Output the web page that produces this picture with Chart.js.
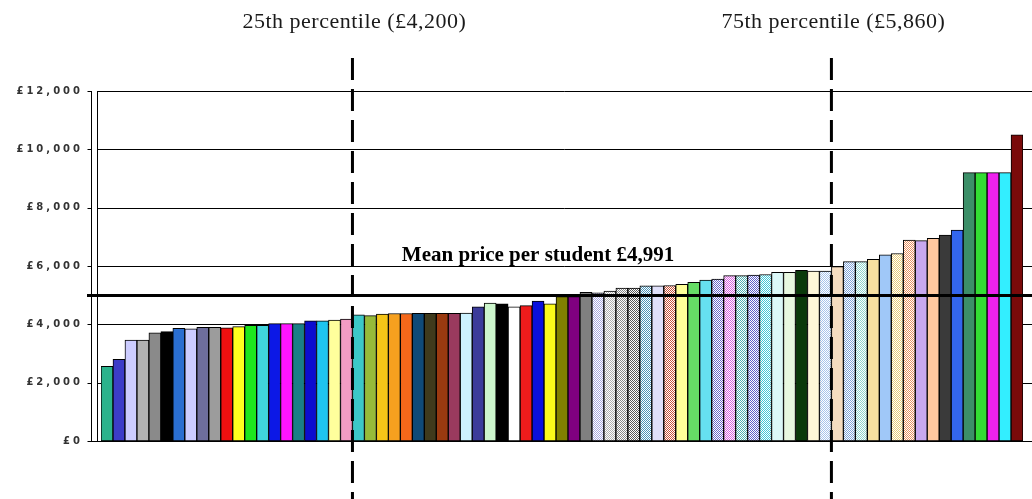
<!DOCTYPE html>
<html>
<head>
<meta charset="utf-8">
<script src="https://cdn.jsdelivr.net/npm/chart.js@4.4.1/dist/chart.umd.min.js"></script>
<style>
  html, body { margin: 0; padding: 0; background: #ffffff; }
  canvas { display: block; }
</style>
</head>
<body>
<canvas id="chart" width="1032" height="499"></canvas>
<script>
// Price per student for each provider, in ascending order (£)
const prices = [
  2560, 2800, 3460, 3460, 3710, 3750, 3860, 3850, 3900, 3900,
  3880, 3920, 3970, 3970, 4030, 4030, 4030, 4120, 4120, 4150,
  4180, 4330, 4300, 4350, 4370, 4370, 4380, 4380, 4380, 4380,
  4390, 4600, 4730, 4700, 4600, 4640, 4800, 4700, 4950, 4950,
  5100, 5080, 5140, 5240, 5240, 5320, 5320, 5330, 5370, 5440,
  5520, 5550, 5670, 5670, 5690, 5710, 5780, 5780, 5850, 5830,
  5830, 5980, 6150, 6150, 6230, 6380, 6430, 6890, 6870, 6950,
  7060, 7230, 9200, 9200, 9200, 9200, 10500
];
const categories = prices.map((_, i) => String(i + 1));

const meanPrice = 4991;
const percentileNames = ['25th percentile', '75th percentile'];
const percentileValues = [4200, 5860];

const yMax = 12000;
const yStep = 2000;

// Fill colours, one per bar
const barColours = [
  '#2bb38c','#3c3cc8','#ccccff','#b2b2b2','#8a8a8a','#000000','#2a6ed0','#ccccff','#6e6e9c','#9c9c9c',
  '#f01010','#ffff1e','#1ee61e','#40d4dc','#0c18e6','#ff14ff','#1a7f86','#0c0cd0','#1ec4f0','#ffff9c',
  '#f29cc4','#3cc8c8','#96bb3a','#f5c518','#f6a01f','#f5681a','#0f4a78','#3f3a1c','#9a3a10','#9a3a5e',
  '#ccf2ff','#3b3b9a','#ccf5cc','#000000','#ffffff','#ee1c1c','#0a10dc','#fbfb1a','#808000','#800080',
  '#808080','#a8a8e0','#b0b0b0','#888888','#585858','#4a94b8','#e0e0fa','#c85038','#ffff99','#66dd66',
  '#66e0f0','#6868c8','#d860e0','#50b0b0','#6060c8','#40c8d8','#dcf8f8','#e8f8e0','#0a3a0a','#fff8d8',
  '#a8c4ec','#f5dcc0','#80a4d8','#90d4cc','#f8e0a0','#a0c8f8','#e8cc78','#e89060','#c8a8f0','#ffc8a0',
  '#3a3a3a','#3366ee','#3c8f68','#33dd33','#ee22ee','#33eeff','#7a0a0a'
];
// Bars drawn with a fine dotted fill
const dottedBars = [41, 42, 43, 44, 45, 47, 51, 52, 53, 54, 55, 60, 62, 63, 66, 67];

const gbp = v => '£' + v.toLocaleString('en-GB');

function dottedFill(colour) {
  const tile = document.createElement('canvas');
  tile.width = tile.height = 2;
  const g = tile.getContext('2d');
  g.fillStyle = '#ffffff';
  g.fillRect(0, 0, 2, 2);
  g.fillStyle = colour;
  g.fillRect(0, 0, 1, 1);
  g.fillRect(1, 1, 1, 1);
  return g.createPattern(tile, 'repeat');
}

const fills = barColours.map((c, i) => dottedBars.includes(i) ? dottedFill(c) : c);

function strokeLine(ctx, x1, y1, x2, y2) {
  ctx.beginPath();
  ctx.moveTo(x1, y1);
  ctx.lineTo(x2, y2);
  ctx.stroke();
}

// Walls, gridlines, mean line, percentile markers and their captions
const decorations = {
  id: 'decorations',
  beforeDraw(chart) {
    chart.ctx.letterSpacing = '3px';
  },
  beforeDatasetsDraw(chart) {
    const { ctx, chartArea: a, scales: { y } } = chart;
    ctx.save();
    ctx.letterSpacing = '0px';
    ctx.strokeStyle = '#000000';
    ctx.lineWidth = 1;
    const outer = a.left - 10 + 0.5;
    const wall = a.left - 4 + 0.5;
    y.ticks.forEach(t => {
      const py = Math.round(y.getPixelForValue(t.value)) + 0.5;
      strokeLine(ctx, wall, py, chart.width, py);
      strokeLine(ctx, outer - 4, py, outer, py);
    });
    strokeLine(ctx, outer, a.top, outer, a.bottom + 1);
    strokeLine(ctx, wall, a.top, wall, a.bottom);
    const floor = Math.round(a.bottom) + 0.5;
    strokeLine(ctx, outer, floor, chart.width, floor);
    ctx.restore();
  },
  afterDatasetsDraw(chart) {
    const { ctx, chartArea: a, scales: { x, y } } = chart;
    ctx.save();
    ctx.letterSpacing = '0px';

    // Mean price line
    const my = y.getPixelForValue(meanPrice);
    ctx.strokeStyle = '#000000';
    ctx.lineWidth = 3;
    strokeLine(ctx, a.left - 14, my, chart.width, my);

    // Percentile markers: placed between the last bar at or below the value and the next
    ctx.setLineDash([22, 9]);
    ctx.lineWidth = 3;
    ctx.fillStyle = '#1a1a1a';
    ctx.textAlign = 'center';
    ctx.textBaseline = 'middle';
    percentileValues.forEach((v, i) => {
      const count = prices.filter(p => p <= v).length;
      const px = x.getPixelForValue(count - 0.5);
      strokeLine(ctx, px, 58, px, chart.height);
      ctx.save();
      ctx.font = "22px 'Liberation Serif'";
      ctx.letterSpacing = '0.5px';
      ctx.fillText(percentileNames[i] + ' (' + gbp(v) + ')', px + 2, 22);
      ctx.restore();
    });
    ctx.setLineDash([]);

    // Mean caption
    ctx.font = "bold 21px 'Liberation Serif'";
    ctx.textAlign = 'center';
    ctx.textBaseline = 'alphabetic';
    ctx.fillStyle = '#000000';
    ctx.fillText('Mean price per student ' + gbp(meanPrice), 538, 261);
    ctx.restore();
  },
  afterDraw(chart) {
    chart.ctx.letterSpacing = '0px';
  }
};

new Chart(document.getElementById('chart'), {
  type: 'bar',
  data: {
    labels: categories,
    datasets: [{
      data: prices,
      backgroundColor: fills,
      borderColor: '#000000',
      borderWidth: 1,
      borderSkipped: false,
      barPercentage: 1,
      categoryPercentage: 1
    }]
  },
  options: {
    responsive: false,
    animation: false,
    devicePixelRatio: 1,
    layout: { padding: { left: 0, right: 9, top: 91, bottom: 58 } },
    plugins: {
      legend: { display: false },
      tooltip: { enabled: false }
    },
    scales: {
      x: { display: false, offset: true },
      y: {
        min: 0,
        max: yMax,
        afterFit(scale) { scale.width = 101; },
        grid: { display: false, drawTicks: false },
        border: { display: false },
        ticks: {
          stepSize: yStep,
          padding: 18,
          color: '#333333',
          font: { family: 'DejaVu Sans', size: 10, weight: 'bold' },
          callback: v => gbp(v)
        }
      }
    }
  },
  plugins: [decorations]
});
</script>
</body>
</html>
